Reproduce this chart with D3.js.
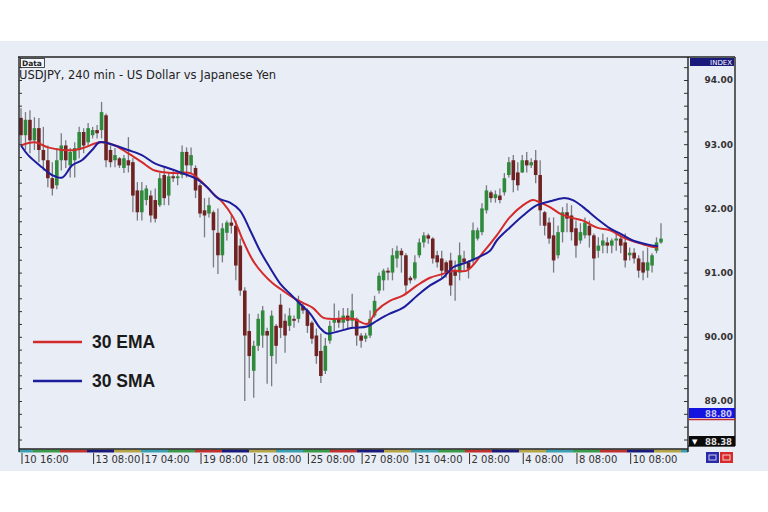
<!DOCTYPE html>
<html>
<head>
<meta charset="utf-8">
<script src="https://cdn.jsdelivr.net/npm/d3@7"></script>
<style>
  body { margin: 0; background: #ffffff; }
  svg text { font-family: "DejaVu Sans", sans-serif; }
</style>
</head>
<body>
<svg id="chart" width="768" height="512"></svg>
<script>
// candles (4h bars)
var opens = [93.41,93.14,93.38,93.06,93.25,92.91,92.75,92.47,92.36,92.75,92.98,92.67,
  92.75,92.91,93.19,93.03,93.14,93.22,93.22,93.45,92.91,92.75,92.78,92.63,
  92.75,92.72,92.28,91.94,92.13,92.2,92.13,92.05,92.52,92.2,92.5,92.47,
  92.52,92.88,92.67,92.63,92.36,91.97,91.92,91.94,91.62,91.27,91.62,91.78,
  91.73,91.42,90.72,90.09,89.47,89.86,90.02,90.09,89.7,90.17,90.5,90.25,
  90.17,90.28,90.28,90.48,90.41,90.22,90.02,89.78,89.47,89.94,90.22,90.28,
  90.22,90.33,90.25,90.28,90.02,89.97,90.02,90.33,90.72,90.88,91.03,91.0,
  91.22,91.34,91.27,90.92,90.91,91.27,91.47,91.58,91.53,91.27,91.22,91.16,
  91.19,91.03,91.0,91.22,91.16,91.19,91.53,91.63,91.97,92.25,92.16,92.2,
  92.25,92.52,92.75,92.56,92.56,92.75,92.67,92.75,92.52,91.94,91.78,91.58,
  91.27,91.63,91.94,91.89,91.69,91.5,91.58,91.73,91.58,91.34,91.42,91.47,
  91.42,91.5,91.53,91.47,91.27,91.31,91.22,91.16,91.03,91.11,91.34,91.47];
var highs = [93.56,93.5,93.53,93.42,93.41,93.27,92.98,92.72,92.94,93.17,93.06,92.94,
  93.03,93.27,93.25,93.33,93.27,93.3,93.66,93.48,92.98,92.94,92.8,92.83,
  93.11,92.78,92.41,92.41,92.36,92.28,92.31,92.55,92.64,92.56,92.59,92.56,
  92.98,92.95,92.95,92.67,92.39,92.16,92.17,91.97,92.0,91.77,91.81,91.89,
  91.81,91.53,90.77,90.36,89.94,90.36,90.48,90.14,90.41,90.2,90.67,90.36,
  90.45,90.33,90.64,90.52,90.44,90.25,90.13,90.05,89.98,90.25,90.52,90.41,
  90.45,90.45,90.67,90.3,90.06,90.06,90.41,90.64,91.0,91.06,91.08,91.38,
  91.42,91.38,91.3,90.95,91.27,91.53,91.63,91.61,91.55,91.34,91.34,91.19,
  91.31,91.19,91.47,91.34,91.19,91.78,91.7,92.08,92.36,92.28,92.28,92.31,
  92.55,92.8,92.83,92.72,92.83,92.88,92.78,92.91,92.75,91.96,91.86,91.86,
  91.73,92.02,92.08,92.05,91.81,91.77,91.86,91.81,91.61,91.55,91.61,91.55,
  91.53,91.63,91.58,91.61,91.39,91.38,91.27,91.34,91.39,91.3,91.55,91.77];
var lows = [92.98,92.91,92.86,92.91,92.72,92.59,92.33,92.2,92.3,92.59,92.63,92.48,
  92.48,92.78,92.86,92.98,93.09,93.09,93.09,92.64,92.64,92.64,92.63,92.55,
  92.56,91.94,91.81,91.81,92.05,91.78,91.78,92.02,92.05,92.05,92.41,92.36,
  92.47,92.48,92.55,92.16,91.86,91.55,91.86,91.08,90.98,91.16,91.5,91.61,
  90.88,90.64,89.0,89.36,89.05,89.78,89.83,89.27,89.23,89.58,89.98,89.75,
  90.09,90.14,90.22,90.36,90.06,89.89,89.58,89.28,89.42,89.89,90.09,90.14,
  90.09,90.13,90.14,89.86,89.83,89.92,89.98,90.3,90.67,90.72,90.88,90.88,
  91.08,91.0,90.67,90.83,90.88,91.23,91.39,91.45,91.14,91.08,90.92,90.92,
  90.64,90.56,90.88,91.03,90.91,91.14,91.5,91.58,91.92,92.09,92.09,92.08,
  92.2,92.48,92.25,92.28,92.55,92.56,92.63,92.39,91.73,91.58,91.45,91.0,
  91.22,91.47,91.63,91.5,91.23,91.45,91.53,91.39,90.88,91.23,91.3,91.3,
  91.3,91.34,91.3,91.08,91.19,91.14,90.92,90.88,90.92,91.0,91.3,91.45];
var closes = [93.14,93.38,93.06,93.25,92.91,92.75,92.47,92.31,92.75,92.98,92.75,92.88,
  92.94,93.19,92.98,93.25,93.22,93.17,93.5,92.75,92.72,92.83,92.67,92.78,
  92.67,92.2,91.94,92.28,92.31,91.89,91.84,92.47,92.16,92.5,92.47,92.5,
  92.88,92.67,92.83,92.28,91.92,91.89,92.05,91.66,91.27,91.69,91.78,91.73,
  91.11,90.72,90.02,89.7,89.86,90.28,90.41,90.02,90.33,89.86,90.14,90.02,
  90.33,90.25,90.56,90.41,90.17,89.97,89.7,89.39,89.86,90.17,90.28,90.22,
  90.33,90.25,90.41,90.02,89.94,90.02,90.28,90.56,90.95,91.03,91.0,91.27,
  91.34,91.27,90.8,90.88,91.16,91.47,91.58,91.53,91.22,91.16,91.03,91.0,
  90.8,90.95,91.27,91.16,91.06,91.66,91.66,92.0,92.28,92.16,92.22,92.13,
  92.47,92.72,92.44,92.36,92.75,92.67,92.72,92.52,91.97,91.73,91.53,91.19,
  91.63,91.94,91.84,91.63,91.42,91.63,91.78,91.58,91.22,91.42,91.5,91.42,
  91.5,91.53,91.42,91.19,91.31,91.22,91.03,91.0,91.16,91.27,91.47,91.53];

// moving averages, sampled along the curves (bar index, price)
var emaIdx = [0,3.1,6,9.2,12.1,14.3,17.6,21,23.9,27,29.9,34.4,37.8,40,42.9,45.1,47.4,49.6,51.8,
  54.1,56.3,58.5,60.8,63,65.2,67.5,69,74.2,77.3,79.5,82.4,85.3,88.5,91.4,94.3,96.5,99.6,
  103.2,106.3,109.2,112.2,114.4,116,118.2,120.4,122.7,125.6,128.7,131.6,134.5,137.6,140.5,142.3];
var emaVal = [92.98,93.03,92.95,92.91,92.91,92.95,93.03,92.98,92.86,92.72,92.59,92.55,92.55,92.44,92.23,
  92.09,91.86,91.5,91.19,90.98,90.83,90.72,90.61,90.53,90.45,90.3,90.28,90.28,90.2,90.41,90.56,
  90.64,90.8,90.92,90.98,91.03,91.03,91.31,91.58,91.86,92.05,92.13,92.09,92.02,91.92,91.86,
  91.81,91.7,91.66,91.55,91.47,91.41,91.39];
var smaIdx = [0,1.6,4.7,6.9,9.2,11.4,13.6,15.9,17.6,21,23.9,27,29.9,32.8,36,38.9,41.6,44,46.7,
  48.9,51.2,53.4,55.6,57.9,60.1,62.3,64.6,66.8,68.4,70.6,74.2,77.3,79.5,82.4,85.3,88.5,91.4,
  94.3,96.5,99.6,101.9,104.8,106.3,109.2,112.2,115.3,118.2,121.1,123.3,125.6,128.7,131.6,
  133.8,136.7,139.9,142.3];
var smaVal = [92.98,92.83,92.64,92.52,92.48,92.67,92.75,92.91,93.03,92.98,92.91,92.83,92.7,92.63,
  92.55,92.47,92.33,92.16,92.09,91.97,91.66,91.34,91.08,90.83,90.67,90.52,90.36,90.14,90.05,
  90.08,90.14,90.16,90.25,90.36,90.45,90.64,90.8,90.92,91.08,91.16,91.23,91.34,91.5,91.7,
  91.89,92.05,92.11,92.16,92.13,92.02,91.84,91.69,91.61,91.5,91.44,91.41];

var priceTicks = [94, 93, 92, 91, 90, 89];
var timeLabels = ["10 16:00","13 08:00","17 04:00","19 08:00","21 08:00","25 08:00",
  "27 08:00","31 04:00","2 08:00","4 08:00","8 08:00","10 08:00"];
var timeLabelIdx = [0, 16, 27, 40, 52, 64, 76, 88, 100, 112, 124, 136];
var legendNames = ["30 EMA", "30 SMA"];
var legendColors = ["#d42a2a", "#1c1c9c"];
var sepColors = ["#3a9fb0", "#3a9a48", "#c0302c", "#1a1a7c", "#b4a446"];

var plotLeft = 19, plotRight = 688, plotTop = 57, plotBottom = 449, panelRight = 735;

var svg = d3.select("#chart");

// backgrounds
svg.append("rect").attr("x", 0).attr("y", 0).attr("width", 768).attr("height", 512).attr("fill", "#ffffff");
svg.append("rect").attr("x", 0).attr("y", 41).attr("width", 768).attr("height", 430).attr("fill", "#e9edf6");

var x = d3.scaleLinear().domain([0, closes.length - 1]).range([21, 661]);
var y = d3.scaleLinear().domain([89, 94]).range([401, 80]);

var candles = closes.map(function(c, i){
    return {i: i, o: opens[i], h: highs[i], l: lows[i], c: c};
});

var plot = svg.append("g");

// wicks
plot.selectAll("line.wick")
    .data(candles)
    .enter()
    .append("line")
    .attr("class", "wick")
    .attr("x1", d => x(d.i)).attr("x2", d => x(d.i))
    .attr("y1", d => y(d.h)).attr("y2", d => y(d.l))
    .attr("stroke", "#7a7a82")
    .attr("stroke-width", 1.3);

// bodies
plot.selectAll("rect.body")
    .data(candles)
    .enter()
    .append("rect")
    .attr("class", "body")
    .attr("x", d => x(d.i) - 1.8)
    .attr("y", d => y(Math.max(d.o, d.c)))
    .attr("width", 3.6)
    .attr("height", d => Math.max(1, Math.abs(y(d.o) - y(d.c))))
    .attr("fill", d => d.c >= d.o ? "#2f8a3c" : "#6e2222");

// moving average lines
var maLine = d3.line()
    .x(d => x(d[0]))
    .y(d => y(d[1]))
    .curve(d3.curveCatmullRom);

plot.append("path")
    .attr("d", maLine(emaIdx.map((v, i) => [v, emaVal[i]])))
    .attr("fill", "none")
    .attr("stroke", legendColors[0])
    .attr("stroke-width", 2);

plot.append("path")
    .attr("d", maLine(smaIdx.map((v, i) => [v, smaVal[i]])))
    .attr("fill", "none")
    .attr("stroke", legendColors[1])
    .attr("stroke-width", 2);

// separator colour bar under the plot
var sepW = 27;
var seps = d3.range(0, 26).map(k => ({x0: Math.max(plotLeft, 6 + k * sepW), x1: Math.min(plotRight, 6 + (k + 1) * sepW), c: sepColors[k % 5]}))
    .filter(s => s.x1 > s.x0);
svg.selectAll("rect.sep")
    .data(seps)
    .enter()
    .append("rect")
    .attr("class", "sep")
    .attr("x", d => d.x0).attr("y", plotBottom + 0.5)
    .attr("width", d => d.x1 - d.x0).attr("height", 3)
    .attr("fill", d => d.c);

// frame
var frame = svg.append("g").attr("stroke", "#222").attr("stroke-width", 1.4).attr("fill", "none");
frame.append("line").attr("x1", 18).attr("x2", panelRight).attr("y1", plotTop).attr("y2", plotTop);
frame.append("line").attr("x1", plotLeft).attr("x2", plotLeft).attr("y1", plotTop).attr("y2", plotBottom + 3);
frame.append("line").attr("x1", plotRight).attr("x2", plotRight).attr("y1", plotTop).attr("y2", plotBottom + 3);
frame.append("line").attr("x1", panelRight).attr("x2", panelRight).attr("y1", plotTop).attr("y2", 446);
frame.append("line").attr("x1", plotRight).attr("x2", panelRight).attr("y1", 446).attr("y2", 446);
frame.append("line").attr("x1", plotLeft).attr("x2", plotRight).attr("y1", plotBottom).attr("y2", plotBottom);

// minor ticks on both vertical edges
var minorTicks = d3.range(88.4, 94.35, 0.2);
var rightTicks = svg.append("g")
    .attr("transform", `translate(${plotRight}, 0)`)
    .call(d3.axisLeft(y).tickValues(minorTicks).tickSize(4).tickFormat(""));
rightTicks.select(".domain").remove();
rightTicks.selectAll("line").attr("stroke", "#333");

var leftTicks = svg.append("g")
    .attr("transform", `translate(${plotLeft}, 0)`)
    .call(d3.axisRight(y).tickValues(minorTicks).tickSize(3).tickFormat(""));
leftTicks.select(".domain").remove();
leftTicks.selectAll("line").attr("stroke", "#333");

// price labels
var priceAxis = svg.append("g")
    .attr("transform", `translate(${plotRight}, 0)`)
    .call(d3.axisRight(y).tickValues(priceTicks).tickSize(0).tickFormat(d3.format(".2f")));
priceAxis.select(".domain").remove();
priceAxis.selectAll("text")
    .attr("x", 45)
    .attr("text-anchor", "end")
    .attr("font-size", "9px")
    .attr("font-weight", "bold")
    .attr("fill", "#333")
    .style("font-family", "DejaVu Sans");

// INDEX header
svg.append("rect").attr("x", plotRight + 2).attr("y", plotTop + 1).attr("width", panelRight - plotRight - 3).attr("height", 8).attr("fill", "#1a1a7c");
svg.append("text").attr("x", panelRight - 3).attr("y", plotTop + 8).attr("text-anchor", "end")
    .attr("font-size", "7px").attr("fill", "#ffffff").text("INDEX");

// price markers at the bottom of the scale
svg.append("rect").attr("x", plotRight + 1).attr("y", 408).attr("width", panelRight - plotRight - 1).attr("height", 10).attr("fill", "#1414e0");
svg.append("text").attr("x", panelRight - 3).attr("y", 416.5).attr("text-anchor", "end")
    .attr("font-size", "8.5px").attr("font-weight", "bold").attr("fill", "#c8c8f0").text("88.80");
svg.append("line").attr("x1", plotRight + 1).attr("x2", panelRight).attr("y1", 419.5).attr("y2", 419.5)
    .attr("stroke", "#c02a2a").attr("stroke-width", 1.5);
svg.append("rect").attr("x", plotRight + 1).attr("y", 436).attr("width", panelRight - plotRight - 1).attr("height", 10).attr("fill", "#0a0a0a");
svg.append("text").attr("x", plotRight + 4).attr("y", 444).attr("font-size", "7px").attr("fill", "#ffffff").text("\u25BC");
svg.append("text").attr("x", panelRight - 3).attr("y", 444.5).attr("text-anchor", "end")
    .attr("font-size", "8.5px").attr("font-weight", "bold").attr("fill", "#e0e0e0").text("88.38");

// small buttons bottom right
svg.append("rect").attr("x", 706).attr("y", 452).attr("width", 13).attr("height", 11).attr("fill", "#2a2aa8");
svg.append("rect").attr("x", 709).attr("y", 455).attr("width", 7).attr("height", 5).attr("fill", "none").attr("stroke", "#c8c8f0");
svg.append("rect").attr("x", 720).attr("y", 452).attr("width", 13).attr("height", 11).attr("fill", "#d82a2a");
svg.append("rect").attr("x", 723).attr("y", 455).attr("width", 7).attr("height", 5).attr("fill", "none").attr("stroke", "#f4d0d0");

// time labels
var timeG = svg.append("g");
timeLabelIdx.forEach(function(idx, k){
    var tx = x(idx) + 1;
    timeG.append("line").attr("x1", tx).attr("x2", tx).attr("y1", plotBottom + 4).attr("y2", 464)
        .attr("stroke", "#333").attr("stroke-width", 1);
    timeG.append("text").attr("x", tx + 2).attr("y", 463)
        .attr("font-size", "10px").attr("fill", "#333").text(timeLabels[k]);
});

// header texts
svg.append("rect").attr("x", 20.5).attr("y", 58.5).attr("width", 24).attr("height", 9)
    .attr("fill", "#f4f6fb").attr("stroke", "#222").attr("stroke-width", 0.8);
svg.append("text").attr("x", 22).attr("y", 66).attr("font-size", "7.5px").attr("font-weight", "bold")
    .attr("fill", "#222").text("Data");
svg.append("text").attr("x", 19).attr("y", 79).attr("font-size", "11.5px").attr("fill", "#222")
    .text("USDJPY, 240 min - US Dollar vs Japanese Yen");

// legend
legendNames.forEach(function(name, k){
    var ly = 342 + k * 39;
    svg.append("line").attr("x1", 33).attr("x2", 82).attr("y1", ly).attr("y2", ly)
        .attr("stroke", legendColors[k]).attr("stroke-width", 2.5);
    svg.append("text").attr("x", 92).attr("y", ly + 6)
        .attr("font-size", "17.5px").attr("font-weight", "bold").attr("fill", "#1a1a1a")
        .style("font-family", "Liberation Sans, Arial, sans-serif")
        .text(name);
});
</script>
</body>
</html>
